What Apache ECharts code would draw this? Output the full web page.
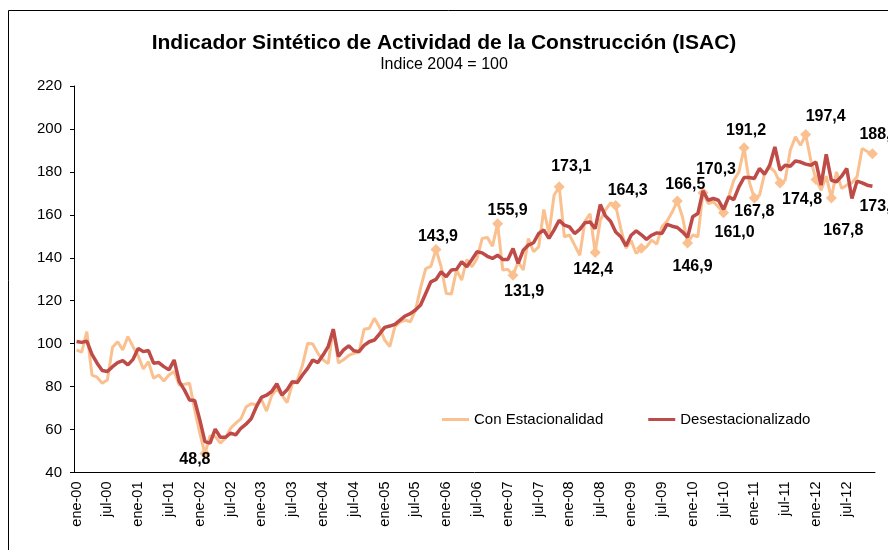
<!DOCTYPE html>
<html><head><meta charset="utf-8">
<script src="https://cdn.jsdelivr.net/npm/echarts@6/dist/echarts.min.js"></script>
<style>html,body{margin:0;padding:0;background:#fff}#c{width:888px;height:550px}</style>
</head><body><div id="c"></div>
<script>
// ---- tick labels / categories ----
const monthNames = ['ene','feb','mar','abr','may','jun','jul','ago','sep','oct','nov','dic'];
const yearSuffixes = ['00','01','02','03','04','05','06','07','08','09','10','11','12'];
const categories = [];
yearSuffixes.forEach(y => monthNames.forEach(m => categories.push(m + '-' + y)));

// ---- series values (ene-00 .. dic-12) ----
const conEstacionalidad = [
  97.1, 96.0, 105.6, 85.4, 84.4, 81.6, 83.1, 98.3, 100.9, 97.1, 103.3, 98.6,
  94.3, 88.2, 91.6, 83.9, 85.4, 82.6, 85.4, 87.0, 80.8, 81.1, 81.6, 69.2,
  58.3, 48.8, 57.0, 56.8, 53.7, 56.0, 60.6, 63.0, 65.0, 70.5, 72.0, 71.6,
  74.0, 68.6, 75.8, 79.0, 76.0, 72.5, 81.0, 83.0, 90.0, 100.2, 99.8, 95.5,
  92.5, 90.7, 107.0, 91.0, 92.5, 94.5, 95.5, 96.0, 106.7, 107.2, 111.8, 107.6,
  101.7, 98.6, 107.9, 110.0, 111.0, 110.2, 115.5, 126.0, 135.0, 136.0, 143.9, 135.8,
  123.4, 123.1, 134.3, 129.6, 139.2, 135.8, 139.7, 149.0, 149.5, 145.4, 155.9, 134.3,
  134.6, 131.9, 138.1, 134.3, 149.0, 142.8, 145.1, 162.5, 151.3, 169.1, 173.1, 149.8,
  150.6, 145.9, 141.2, 157.0, 160.5, 142.4, 157.5, 162.2, 165.6, 164.3, 153.5, 144.5,
  148.0, 142.0, 144.4, 145.1, 148.2, 146.4, 154.4, 157.0, 161.3, 166.5, 159.1, 146.9,
  150.6, 149.8, 170.3, 165.3, 166.1, 163.7, 161.0, 168.4, 176.1, 180.0, 191.2, 175.4,
  167.8, 169.1, 179.2, 182.3, 180.0, 174.8, 176.1, 190.1, 196.3, 192.4, 197.4, 185.4,
  176.4, 171.5, 178.0, 167.8, 180.0, 172.3, 173.8, 174.9, 177.7, 190.9, 189.5, 188.4
];
const desestacionalizado = [
  101.0, 100.6, 101.2, 95.0, 90.9, 87.5, 87.0, 89.3, 91.2, 92.1, 90.1, 92.7,
  97.8, 96.3, 96.8, 90.9, 91.2, 89.3, 87.8, 92.4, 82.3, 78.5, 73.8, 73.5,
  64.5, 54.4, 53.7, 60.2, 56.4, 56.4, 58.3, 57.5, 60.6, 62.5, 65.0, 70.5,
  75.0, 76.0, 77.7, 81.3, 76.1, 78.5, 82.3, 81.9, 85.4, 88.5, 92.4, 91.2,
  94.7, 98.6, 106.7, 94.0, 97.1, 99.0, 96.7, 96.3, 99.2, 100.9, 101.7, 104.5,
  107.6, 108.2, 109.0, 111.0, 112.9, 114.0, 115.7, 118.0, 123.4, 128.8, 129.9, 133.5,
  131.2, 134.3, 134.6, 138.1, 135.8, 139.2, 142.8, 142.3, 140.7, 139.7, 141.2, 139.2,
  139.2, 144.3, 137.4, 143.5, 145.9, 147.0, 151.3, 152.9, 149.0, 153.0, 157.5, 155.2,
  154.4, 151.3, 153.2, 156.3, 156.7, 153.6, 164.8, 159.5, 157.0, 152.0, 149.8, 145.5,
  150.5, 152.5, 150.7, 148.6, 150.5, 151.6, 151.3, 155.6, 154.7, 154.1, 152.1, 149.5,
  159.1, 160.6, 171.2, 166.8, 167.6, 166.8, 162.5, 168.4, 167.1, 173.0, 177.4, 177.4,
  176.9, 181.6, 178.9, 183.1, 191.6, 180.8, 183.1, 182.6, 185.1, 184.6, 183.6, 183.1,
  184.6, 173.8, 188.2, 176.1, 175.4, 178.0, 181.6, 167.6, 175.7, 174.9, 173.8, 173.3
];
// indices of annotated points
const labeledCon = [25,70,82,85,94,101,105,117,119,122,126,130,132,137,142,147,155];
const markerOnlyCon = [110,144];
const labeledDes = [155];

// ---- layout / styling (kept separate from the data) ----
const FONT = "'Liberation Sans', Arial, sans-serif";
const ORANGE = '#FAC08F';
const RED = '#BE4B48';
const labelOffsetCon = {25:[-10,6],70:[2,-13],82:[10,-13],85:[11,16],94:[12,-20],101:[-2,17],
  105:[12,-15],117:[8,-16],119:[5,24],122:[13,-23],126:[11,20],130:[2,-17],132:[0,14],
  137:[22,17],142:[20,-18],147:[12,33],155:[7,-19]};
const labelOffsetDes = {155:[7,20]};
const fmt = v => v.toFixed(1).replace('.', ',');
const labelBase = {fontFamily: FONT, fontSize: 16, fontWeight: 'bold', color: '#000', position: 'inside',
  formatter: p => fmt(p.value)};

const conData = conEstacionalidad.map((v, i) => {
  if (labeledCon.includes(i)) {
    return {value: v, symbolSize: 11, label: Object.assign({}, labelBase, {show: true, offset: labelOffsetCon[i]})};
  }
  if (markerOnlyCon.includes(i)) return {value: v, symbolSize: 11};
  return {value: v, symbolSize: 0};
});
const desData = desestacionalizado.map((v, i) => {
  if (labeledDes.includes(i)) {
    return {value: v, symbolSize: 0, label: Object.assign({}, labelBase, {show: true, offset: labelOffsetDes[i]})};
  }
  return {value: v, symbolSize: 0};
});

const chart = echarts.init(document.getElementById('c'), null, {renderer: 'canvas'});
chart.setOption({
  animation: false,
  backgroundColor: '#fff',
  title: {
    text: 'Indicador Sintético de Actividad de la Construcción (ISAC)',
    subtext: 'Indice 2004 = 100',
    left: 'center', top: 28, itemGap: 3,
    textStyle: {fontFamily: FONT, fontSize: 21, fontWeight: 'bold', color: '#000'},
    subtextStyle: {fontFamily: FONT, fontSize: 16, color: '#000'}
  },
  legend: {
    left: 437, top: 407, itemWidth: 27, itemHeight: 3, itemGap: 45, icon: 'rect',
    selectedMode: false,
    textStyle: {fontFamily: FONT, fontSize: 15, color: '#000'},
    data: ['Con Estacionalidad', 'Desestacionalizado']
  },
  grid: {left: 74, right: 13, top: 86, bottom: 77.5, containLabel: false},
  xAxis: {
    type: 'category', data: categories, boundaryGap: true,
    axisLine: {lineStyle: {color: '#000', width: 1}},
    axisTick: {interval: 2, length: 5, lineStyle: {color: '#000'}},
    axisLabel: {interval: 5, rotate: 90, margin: 9, fontFamily: FONT, fontSize: 14.5, color: '#000'},
    splitLine: {show: false}
  },
  yAxis: {
    type: 'value', min: 40, max: 220, interval: 20,
    axisLine: {show: true, lineStyle: {color: '#000', width: 1}},
    axisTick: {show: true, length: 4, lineStyle: {color: '#000'}},
    axisLabel: {margin: 12, fontFamily: FONT, fontSize: 15, color: '#000'},
    splitLine: {show: false}
  },
  series: [
    {name: 'Con Estacionalidad', type: 'line', data: conData, symbol: 'diamond', showAllSymbol: true,
     lineStyle: {color: ORANGE, width: 3}, itemStyle: {color: ORANGE}, label: {show: false},
     emphasis: {disabled: true}, z: 2},
    {name: 'Desestacionalizado', type: 'line', data: desData, symbol: 'circle', showAllSymbol: true,
     lineStyle: {color: RED, width: 3.5}, itemStyle: {color: RED}, label: {show: false},
     emphasis: {disabled: true}, z: 3}
  ],
  graphic: [{
    type: 'polyline', silent: true,
    shape: {points: [[8.5, 550], [8.5, 10.5], [888, 10.5]]},
    style: {stroke: '#000', lineWidth: 1, fill: null}
  }]
});
</script></body></html>
